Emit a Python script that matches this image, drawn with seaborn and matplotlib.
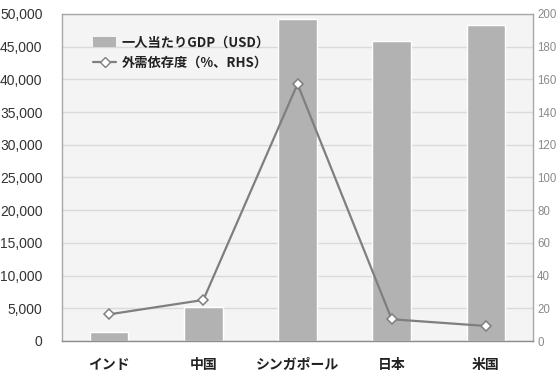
import matplotlib
matplotlib.use("Agg")
import matplotlib.pyplot as plt
import seaborn as sns
import pandas as pd
from matplotlib.patches import Patch
from matplotlib.lines import Line2D
from matplotlib.ticker import FuncFormatter, MultipleLocator

# Per-capita GDP (USD) and external-demand dependence (%) by country
countries = ["インド", "中国", "シンガポール", "日本", "米国"]
gdp_per_capita = [1400, 5200, 49200, 45800, 48300]
external_dependence = [16.3, 25.1, 157.2, 13.3, 9.2]

bar_label = "一人当たりGDP（USD）"
line_label = "外需依存度（%、RHS）"

df = pd.DataFrame({
    "country": countries,
    "gdp": gdp_per_capita,
    "dep": external_dependence,
})

sns.set_theme(style="white")
plt.rcParams["font.family"] = ["Liberation Sans", "Noto Sans CJK JP", "DejaVu Sans"]

fig = plt.figure(figsize=(5.58, 3.74), dpi=100)
ax = fig.add_axes([62 / 558, 1 - 341 / 374, (533 - 62) / 558, (341 - 14) / 374])
ax.set_facecolor("#f4f4f4")

bar_color = "#b2b2b2"
line_color = "#7f7f7f"

sns.barplot(data=df, x="country", y="gdp", color=bar_color, width=0.41,
            saturation=1, ax=ax, zorder=2)
ax.set_ylim(0, 50000)
ax.set_xlim(-0.5, 4.5)
ax.yaxis.set_major_locator(MultipleLocator(5000))
ax.yaxis.set_major_formatter(FuncFormatter(lambda v, p: f"{int(v):,}"))
ax.grid(axis="y", color="#dadada", linewidth=1.0, zorder=0)
ax.set_axisbelow(True)
ax.set_xlabel("")
ax.set_ylabel("")

for side, sp in ax.spines.items():
    sp.set_color("#a8a8a8")
    sp.set_linewidth(1.0)
ax.spines["bottom"].set_color("#8c8c8c")

ax.tick_params(axis="y", length=0, pad=14, labelsize=10, labelcolor="#333333")
ax.tick_params(axis="x", length=0, pad=12, labelsize=10, labelcolor="#222222")
for t in ax.get_xticklabels():
    t.set_family(["Noto Sans CJK JP", "DejaVu Sans"])
    t.set_fontweight("bold")

ax2 = ax.twinx()
sns.pointplot(data=df, x="country", y="dep", color=line_color, markers="D",
              linewidth=1.6, markersize=5, markerfacecolor="white",
              markeredgecolor=line_color, markeredgewidth=1.1, ax=ax2)
ax2.set_ylim(0, 200)
ax2.set_xlim(-0.5, 4.5)
ax2.yaxis.set_major_locator(MultipleLocator(20))
ax2.set_ylabel("")
ax2.set_xlabel("")
for sp in ax2.spines.values():
    sp.set_visible(False)
ax2.tick_params(axis="y", length=0, pad=3, labelsize=8.3, labelcolor="#8a8a8a")
ax2.grid(False)

handles = [
    Patch(facecolor=bar_color, edgecolor="none"),
    Line2D([0], [0], color=line_color, linewidth=1.6, marker="D", markersize=5,
           markerfacecolor="white", markeredgecolor=line_color),
]
leg = ax2.legend(handles, [bar_label, line_label], loc="upper left",
                 bbox_to_anchor=(0.04, 0.97), frameon=False,
                 handlelength=1.8, handletextpad=0.4, labelspacing=0.45,
                 prop={"family": ["Noto Sans CJK JP", "DejaVu Sans"],
                       "weight": "bold", "size": 9.5})
for t in leg.get_texts():
    t.set_color("#222222")

fig.savefig("out.png", dpi=100, facecolor="white")
